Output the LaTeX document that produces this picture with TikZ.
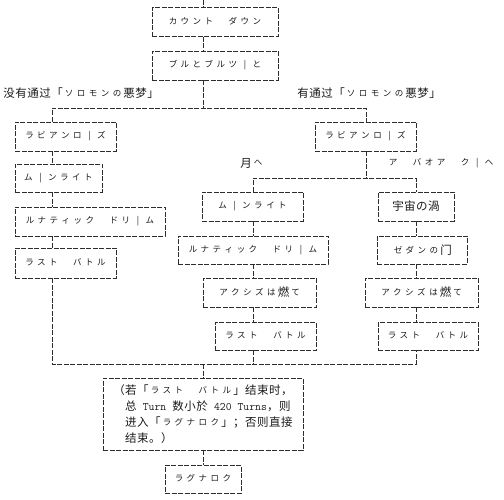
\documentclass[tikz,border=0pt]{standalone}
\usepackage{fontspec}
\setmainfont{Noto Sans CJK SC}
\usetikzlibrary{positioning,calc}
\definecolor{asline}{RGB}{45,45,45}
\definecolor{astext}{RGB}{25,25,25}
\newcommand\kanafont{\fontsize{8.5}{9}\selectfont}
\def\hanloop#1{\ifx#1\relax\else\makebox[12pt]{#1}\expandafter\hanloop\fi}
\def\kanaloop#1{\ifx#1\relax\else\makebox[12pt]{\raisebox{1.2pt}{\kanafont#1}}\expandafter\kanaloop\fi}
\newcommand\han[1]{\hanloop#1\relax}
\newcommand\kana[1]{\kanaloop#1\relax}
\newcommand\asc[1]{{\ttfamily\fontsize{11.4}{12}\selectfont#1}}

\begin{document}
\begin{tikzpicture}[x=1pt, y=-1pt,
  box/.style={draw=asline, dash pattern=on 5pt off 1.5pt, line width=0.8pt, minimum height=29pt, inner sep=0pt, text=astext, font=\fontsize{11.5}{14}\selectfont},
  link/.style={draw=asline, dash pattern=on 5pt off 1.5pt, line width=0.8pt},
  lbl/.style={anchor=west, inner sep=0pt, text=astext, font=\fontsize{11.5}{14}\selectfont}
]
  \useasboundingbox (0,0) rectangle (504,500);

  %% Spines of the columns
  \coordinate (top) at (203,0);
  \coordinate (lsp) at (52,0);
  \coordinate (rsp) at (366,0);
  \coordinate (msp) at (253,0);
  \coordinate (ssp) at (416,0);

  %% Common start
  \node[box, minimum width=126pt] (cd) at (215,22) {\kana{カウント　ダウン}};
  \node[box, minimum width=126pt] (bb) at (215,65.5) {\kana{ブルとブルツ|と}};
  \draw[link] (top) -- (top |- cd.north);
  \draw[link] (cd.south -| top) -- (bb.north -| top);

  %% First split
  \coordinate (s1c) at (203,108);
  \coordinate (s1l) at (52,108);
  \coordinate (s1r) at (366,108);
  \node[lbl] (nolbl) at (3,93) {\han{没有通过「}\kana{ソロモンの}\han{悪梦」}};
  \node[lbl] (yeslbl) at (297,93) {\han{有通过「}\kana{ソロモンの}\han{悪梦」}};
  \draw[link] (bb.south -| top) -- (s1c);

  %% Left column
  \node[box, minimum width=101pt] (l1) at (65.5,136.5) {\kana{ラビアンロ|ズ}};
  \node[box, minimum width=87pt, minimum height=28pt] (l2) at (58.5,178) {\kana{ム|ンライト}};
  \node[box, minimum width=150pt] (l3) at (90,221.5) {\kana{ルナティック　ドリ|ム}};
  \node[box, minimum width=101pt, minimum height=30pt] (l4) at (65.5,263) {\kana{ラスト　バトル}};
  \draw[link] (l1.south -| lsp) -- (l2.north -| lsp);
  \draw[link] (l2.south -| lsp) -- (l3.north -| lsp);
  \draw[link] (l3.south -| lsp) -- (l4.north -| lsp);

  %% Right column
  \node[box, minimum width=101pt] (r1) at (365.5,136.5) {\kana{ラビアンロ|ズ}};
  \draw[link] (l1.north -| lsp) -- (s1l) -- (s1r) -- (rsp |- r1.north);
  \coordinate (s2c) at (366,178);
  \coordinate (s2l) at (253,178);
  \coordinate (s2r) at (416,178);
  \node[lbl] (moonlbl) at (240,163) {\han{月}\kana{へ}};
  \node[lbl] (abaoalbl) at (387,163) {\kana{ア　バオア　ク|へ}};
  \draw[link] (r1.south -| rsp) -- (s2c);

  %% Moon branch
  \node[box, minimum width=101pt] (m1) at (252.5,206.5) {\kana{ム|ンライト}};
  \node[box, minimum width=150pt, minimum height=28pt] (m2) at (253,250) {\kana{ルナティック　ドリ|ム}};
  \node[box, minimum width=113pt] (m3) at (259.5,292.5) {\kana{アクシズは}\han{燃}\kana{て}};
  \node[box, minimum width=101pt, minimum height=28pt] (m4) at (265.5,336) {\kana{ラスト　バトル}};
  \draw[link] (m1.south -| msp) -- (m2.north -| msp);
  \draw[link] (m2.south -| msp) -- (m3.north -| msp);
  \draw[link] (m3.south -| msp) -- (m4.north -| msp);

  %% A Baoa Qu branch
  \node[box, minimum width=76pt] (u1) at (416,206.5) {\han{宇宙の渦}};
  \node[box, minimum width=90pt, minimum height=28pt] (u2) at (422,250) {\kana{ゼダンの}\han{门}};
  \node[box, minimum width=113pt] (u3) at (421.5,292.5) {\kana{アクシズは}\han{燃}\kana{て}};
  \node[box, minimum width=100pt, minimum height=28pt] (u4) at (428,336) {\kana{ラスト　バトル}};
  \draw[link] (m1.north -| msp) -- (s2l) -- (s2r) -- (ssp |- u1.north);
  \draw[link] (u1.south -| ssp) -- (u2.north -| ssp);
  \draw[link] (u2.south -| ssp) -- (u3.north -| ssp);
  \draw[link] (u3.south -| ssp) -- (u4.north -| ssp);

  %% Merge
  \coordinate (mgl) at (52,364);
  \coordinate (mgc) at (203,364);
  \coordinate (mgm) at (253,364);
  \coordinate (mgr) at (416,364);
  \draw[link] (l4.south -| lsp) -- (mgl) -- (mgr) -- (u4.south -| ssp);
  \draw[link] (m4.south -| msp) -- (mgm);

  %% Condition and end
  \node[box, minimum width=200pt, minimum height=72pt, align=left, font=\fontsize{11.5}{16}\selectfont] (cond) at (203,414)
    {\han{（若「}\kana{ラスト　バトル}\han{」结束时，}\\
     \han{　总}\asc{~Turn~}\han{数小於}\asc{~420~Turns}\han{，则}\\
     \han{　进入「}\kana{ラグナロク}\han{」；否则直接}\\
     \han{　结束。）}};
  \node[box, minimum width=76pt, minimum height=28pt] (rag) at (203,479) {\kana{ラグナロク}};
  \draw[link] (mgc) -- (cond.north -| top);
  \draw[link] (cond.south -| top) -- (rag.north -| top);
\end{tikzpicture}
\end{document}
